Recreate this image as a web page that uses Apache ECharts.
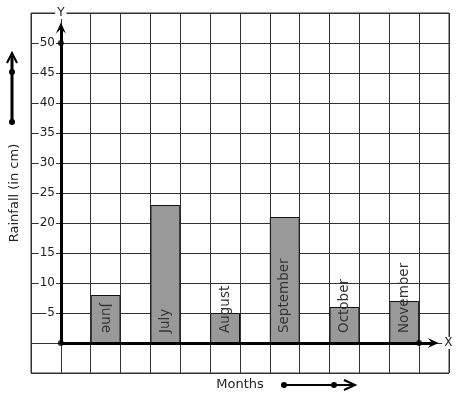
<!DOCTYPE html>
<html>
<head>
<meta charset="utf-8">
<script src="https://cdn.jsdelivr.net/npm/echarts@6/dist/echarts.min.js"></script>
<style>html,body{margin:0;padding:0;background:#fff}#c{width:457px;height:399px}</style>
</head>
<body>
<div id="c"></div>
<script>
const months = ['June', 'July', 'August', 'September', 'October', 'November'];
const rainfall = [8, 23, 5, 21, 6, 7];
const yTicks = [5, 10, 15, 20, 25, 30, 35, 40, 45, 50];
const labelRotations = [-90, 90, 90, 90, 90, 90];

// 14 grid-cell slots; each month sits in every other cell starting at cell 2
const slotCount = 14;
const slots = new Array(slotCount).fill('');
const barData = new Array(slotCount).fill(null);
months.forEach((m, i) => {
  const s = 2 + 2 * i;
  slots[s] = m;
  const rot = labelRotations[i];
  barData[s] = {
    value: rainfall[i],
    label: { rotate: rot, align: rot > 0 ? 'left' : 'right' }
  };
});

const arrowHead = 'path://M0,10 L5,0 L10,10 L5,6 Z';
const font = 'DejaVu Sans';

const chart = echarts.init(document.getElementById('c'), null, { renderer: 'canvas' });
chart.setOption({
  animation: false,
  backgroundColor: '#fff',
  grid: { left: 29, right: 8, top: 13, bottom: 26, show: true, borderColor: '#333', borderWidth: 1, containLabel: false },
  xAxis: [
    {
      type: 'category', data: slots, boundaryGap: true,
      axisLine: { show: false, onZero: false }, axisTick: { show: false }, axisLabel: { show: false },
      splitLine: { show: false },
      name: 'Months', nameLocation: 'middle', nameGap: 5,
      nameTextStyle: { fontFamily: font, fontSize: 13, color: '#222' }
    },
    {
      type: 'value', min: -1, max: 13, interval: 1, position: 'bottom',
      axisLine: { show: false, onZero: false }, axisTick: { show: false }, axisLabel: { show: false },
      splitLine: { show: true, lineStyle: { color: '#333', width: 1 } }
    }
  ],
  yAxis: {
    type: 'value', min: -5, max: 55, interval: 5,
    axisLine: { show: false, onZero: false }, axisTick: { show: false },
    splitLine: { show: true, lineStyle: { color: '#333', width: 1 } },
    axisLabel: {
      inside: true, align: 'right', margin: 25,
      fontFamily: font, fontSize: 12, color: '#222',
      backgroundColor: '#fff', padding: [0, 1],
      formatter: v => (yTicks.includes(v) ? String(v) : '')
    },
    name: 'Rainfall (in cm)', nameLocation: 'middle', nameRotate: 90, nameGap: 10,
    nameTextStyle: { fontFamily: font, fontSize: 13, color: '#222' }
  },
  series: [
    {
      type: 'bar', xAxisIndex: 0, data: barData, barWidth: '100%',
      itemStyle: { color: '#999', borderColor: '#111', borderWidth: 1 },
      label: {
        show: true, position: 'insideBottom', distance: 10,
        verticalAlign: 'middle',
        fontFamily: font, fontSize: 13.5, color: '#333',
        formatter: p => slots[p.dataIndex]
      },
      z: 2
    },
    {
      type: 'scatter', xAxisIndex: 1, symbol: 'circle', symbolSize: 6,
      itemStyle: { color: '#000' },
      data: [[0, 0], [0, 50], [12, 0]],
      z: 5,
      markLine: {
        silent: true, animation: false,
        symbol: ['none', 'none'],
        lineStyle: { color: '#000', width: 3, type: 'solid' },
        label: { show: true, position: 'end', fontFamily: font, fontSize: 12, color: '#222', backgroundColor: '#fff', padding: [0, 2] },
        data: [
          [
            { coord: [0, 0], symbol: 'none' },
            { coord: [0, 52.5], symbol: arrowHead, symbolSize: [10, 11], label: { formatter: 'Y', distance: 9 } }
          ],
          [
            { coord: [0, 0], symbol: 'none' },
            { coord: [12.47, 0], symbol: arrowHead, symbolSize: [10, 11], label: { formatter: 'X', distance: 9 } }
          ]
        ]
      }
    }
  ],
  graphic: [
    {
      type: 'group', silent: true,
      children: [
        { type: 'line', shape: { x1: 12, y1: 122, x2: 12, y2: 56 }, style: { stroke: '#000', lineWidth: 3 } },
        { type: 'polyline', shape: { points: [[7, 63], [12, 53], [17, 63]] }, style: { stroke: '#000', lineWidth: 2, fill: null } },
        { type: 'circle', shape: { cx: 12, cy: 72, r: 3 }, style: { fill: '#000' } },
        { type: 'circle', shape: { cx: 12, cy: 122, r: 3 }, style: { fill: '#000' } },
        { type: 'line', shape: { x1: 284, y1: 385, x2: 353, y2: 385 }, style: { stroke: '#000', lineWidth: 2 } },
        { type: 'polyline', shape: { points: [[344, 380], [355, 385], [344, 390]] }, style: { stroke: '#000', lineWidth: 2, fill: null } },
        { type: 'circle', shape: { cx: 284, cy: 385, r: 3 }, style: { fill: '#000' } },
        { type: 'circle', shape: { cx: 334, cy: 385, r: 3 }, style: { fill: '#000' } }
      ]
    }
  ]
});
</script>
</body>
</html>
